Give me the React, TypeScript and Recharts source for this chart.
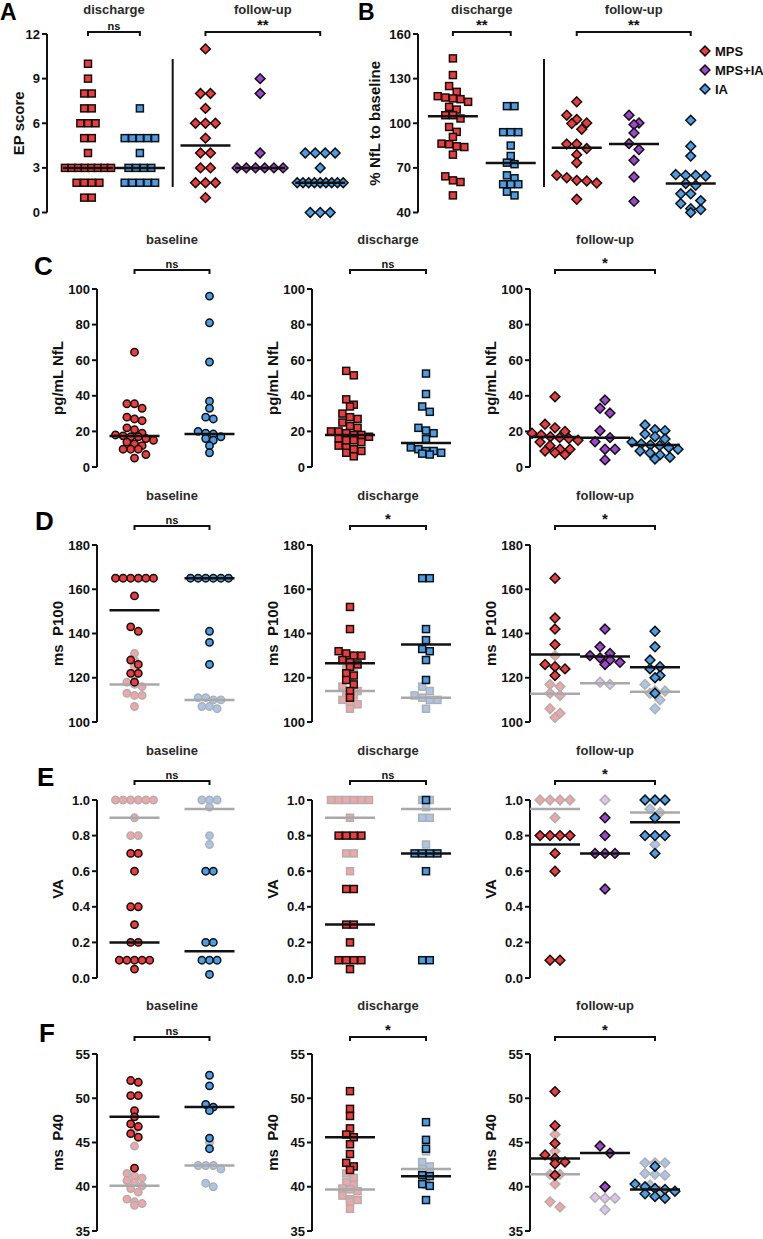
import React from 'react';
import { ScatterChart, Scatter, XAxis, YAxis } from 'recharts';

const FONT = '"Liberation Sans", Arial, Helvetica, sans-serif';

// ---- A: EP score ----
const epDisMps = [10, 9, 8, 8, 7, 7, 6, 6, 6, 5, 5, 4, 3, 3, 3, 3, 3, 3, 3, 3, 2, 2, 2, 2, 1, 1];
const epDisIa = [7, 5, 5, 5, 5, 5, 4, 3, 3, 3, 3, 2, 2, 2, 2, 2];
const epFuMps = [11, 8, 8, 7, 6, 6, 6, 5, 4, 4, 3, 3, 2, 2, 2, 1];
const epFuMpsIa = [9, 8, 4, 3, 3, 3, 3, 3, 3];
const epFuIa = [4, 4, 4, 4, 3, 2, 2, 2, 2, 2, 2, 2, 2, 2, 0, 0, 0];
const epMedians = [3, 3, 4.5, 3, 2];

// ---- B: % NfL to baseline ----
const pctDisMps = [143.6, 132.4, 125, 121.1, 118.2, 117.3, 116.7, 116.2, 114.4, 111, 109.2, 105.4, 105.4, 103.2, 97.5, 94.2, 90.8, 86.3, 85.9, 84.5, 84, 78.9, 64.3, 61.6, 60.5, 51.5];
const pctDisIa = [111.5, 111.5, 94, 94, 94, 85, 78, 73.5, 72.5, 65, 63, 59, 59, 59, 54, 51.5];
const pctFuMps = [114.4, 105.4, 102.5, 100.2, 99.8, 96, 86, 86, 83, 78.9, 73.5, 65, 63.4, 61.6, 61.2, 59.8, 48.9];
const pctFuMpsIa = [105.4, 100.2, 99.1, 93.5, 86.3, 82.3, 75.1, 63.9, 47.5];
const pctFuIa = [102, 84.6, 77.9, 65.5, 65, 65, 64.5, 59.5, 58.3, 52.6, 52.6, 48, 46, 42.6, 42, 40];
const pctMedians = [104.7, 73.3, 83.6, 86, 59.5];

// ---- C: pg/mL NfL ----
const nflBaseMps = [64.5, 35.5, 35.5, 33, 28, 27, 26, 22, 21, 19, 18, 17.5, 17, 17, 16, 15, 14, 13, 12, 10, 10, 10, 7, 5];
const nflBaseIa = [96, 81, 59, 37, 33, 28, 27, 20, 19, 18.5, 17, 16, 15, 12, 8];
const nflDisMps = [54, 51.5, 38, 35, 34, 30, 28, 27, 25, 23, 22, 20, 20, 19, 18, 18, 17, 16, 15, 15, 14, 12, 11, 10, 9, 8, 6];
const nflDisIa = [52.5, 41, 34, 31, 22, 20.5, 19, 15.7, 11, 10, 9, 9, 8, 7.5, 7];
const nflFuMps = [39.5, 24, 22, 20, 19, 18, 17, 16.5, 16, 15, 14, 12, 10, 10, 9, 8, 7];
const nflFuMpsIa = [37.6, 33, 30.3, 20.4, 16.5, 14.2, 10, 10, 4];
const nflFuIa = [23.6, 21, 20.4, 18.5, 17, 15.7, 14, 13, 12.4, 12, 11, 10, 9, 7.9, 6.8, 5.5, 4.5];
const nflMedians = [17.4, 18.5, 18, 13.5, 16.8, 16.5, 12.4];

// ---- D: ms P100 (dark = affected, light = other) ----
const p100BaseMps = [165, 165, 165, 165, 165, 165, 157, 143, 141, 128, 126, 122, 122, 118];
const p100BaseMpsLt = [131, 128, 125, 121, 118, 117, 116, 113, 112, 112, 107];
const p100BaseIa = [165, 165, 165, 165, 165, 165, 141, 136, 126];
const p100BaseIaLt = [111, 111, 110, 110, 107, 106, 107];
const p100DisMps = [152, 142, 132, 131, 130, 130, 128, 127, 126, 125, 122, 121, 119, 117, 114, 111];
const p100DisMpsLt = [130, 127, 124, 122, 119, 116, 114, 114, 113, 112, 110, 109, 108, 106];
const p100DisIa = [165, 165, 142, 137, 133, 132, 128, 119];
const p100DisIaLt = [116, 114, 112, 111, 110, 110, 106];
const p100FuMps = [165, 147, 142, 135, 126, 125, 124, 121];
const p100FuMpsLt = [130, 117, 116, 113, 112, 106, 104, 102];
const p100FuMpsIa = [142, 134, 131, 130, 129, 128, 127, 126];
const p100FuMpsIaLt = [118, 117];
const p100FuIa = [141, 134, 128, 125, 124, 121, 120, 113];
const p100FuIaLt = [117, 114, 114, 113, 110, 106];
const p100Medians = [150.5, 165, 126.5, 135, 130.5, 129.6, 124.7];
const p100LtMedians = [117, 110, 114, 111, 112.8, 117.5, 113.7];

// ---- E: VA ----
const vaBaseMps = [0.7, 0.7, 0.6, 0.4, 0.4, 0.3, 0.2, 0.2, 0.1, 0.1, 0.1, 0.1, 0.1, 0.05];
const vaBaseMpsLt = [1, 1, 1, 1, 1, 1, 0.9, 0.8, 0.8];
const vaBaseIa = [0.6, 0.6, 0.2, 0.2, 0.1, 0.1, 0.1, 0.02];
const vaBaseIaLt = [1, 1, 1, 0.96, 0.8, 0.75];
const vaDisMps = [0.8, 0.8, 0.8, 0.8, 0.5, 0.5, 0.3, 0.3, 0.2, 0.1, 0.1, 0.1, 0.1, 0.05];
const vaDisMpsLt = [1, 1, 1, 1, 1, 1, 0.9, 0.7, 0.7, 0.6];
const vaDisIa = [1, 0.7, 0.7, 0.7, 0.7, 0.6, 0.1, 0.1];
const vaDisIaLt = [1, 1, 0.96, 0.9, 0.9, 0.75];
const vaFuMps = [0.8, 0.8, 0.8, 0.8, 0.7, 0.6, 0.1, 0.1];
const vaFuMpsLt = [1, 1, 1, 1, 0.9];
const vaFuMpsIa = [0.9, 0.8, 0.7, 0.7, 0.7, 0.5];
const vaFuMpsIaLt = [1];
const vaFuIa = [1, 1, 1, 0.9, 0.8, 0.8, 0.8, 0.7];
const vaFuIaLt = [0.95, 0.93, 0.75];
const vaMedians = [0.2, 0.15, 0.3, 0.7, 0.75, 0.7, 0.875];
const vaLtMedians = [0.9, 0.95, 0.9, 0.95, 0.95, null, 0.93];

// ---- F: ms P40 ----
const p40BaseMps = [52, 51.8, 50.3, 50.3, 48.6, 47.9, 47.1, 46.8, 46, 45.6, 42.1];
const p40BaseMpsLt = [46.5, 44.6, 41.5, 41.2, 41, 40.7, 40.5, 40.1, 39.8, 39.4, 38.6, 38.3, 38.1, 37.9];
const p40BaseIa = [52.6, 51.4, 49.3, 49, 48.6, 45.5, 44.3];
const p40BaseIaLt = [45, 42.4, 42.4, 42.4, 42, 40.4, 40];
const p40DisMps = [50.8, 48.8, 48, 46.6, 45.9, 45.6, 44.8, 43.7, 42.7, 42.3, 41.9];
const p40DisMpsLt = [46.4, 41.5, 41, 40.5, 40.2, 39.8, 39.7, 39.5, 39, 38.6, 38.5, 38.3, 37.5];
const p40DisIa = [47.3, 45.3, 44.3, 41.3, 41.2, 40.3, 40.1, 38.5];
const p40DisIaLt = [44, 42.8, 42.3, 42, 41.6, 41, 40.2];
const p40FuMps = [50.75, 46.9, 44.9, 43.6, 43.2, 42.8, 42.6, 41.3];
const p40FuMpsLt = [45.9, 44, 43, 41.4, 41.4, 40.3, 38.3, 37.7];
const p40FuMpsIa = [44.6, 43.8, 40];
const p40FuMpsIaLt = [40, 38.8, 38.7, 38.7, 37.4];
const p40FuIa = [42.3, 40.3, 40, 39.8, 39.7, 39.5, 39.2, 38.9, 38.7];
const p40FuIaLt = [42.7, 42.7, 42.7, 41.5, 41.4, 41.3, 40.2, 39.5];
const p40Medians = [47.9, 49, 45.6, 41.2, 43.2, 43.8, 39.7];
const p40LtMedians = [40.1, 42.4, 39.7, 42, 41.4, null, null];

const PALETTE: Record<string, { dark: string; light: string }> = {
  red: { dark: '#ef3b3b', light: '#f4a4a4' },
  blue: { dark: '#4a9de6', light: '#a8c6ec' },
  purple: { dark: '#a045cf', light: '#dcc4ee' },
};
const LIGHT_STROKE = '#b0b0b0';
const INK = '#111';

type Kind = 'square' | 'circle' | 'diamond';
const MARK_W: Record<Kind, number> = { square: 8, circle: 8, diamond: 10.5 };

interface Group {
  slot: number;
  kind: Kind;
  color: string;
  dark: number[];
  median: number;
  light?: number[];
  lightMedian?: number | null;
}

interface Bracket {
  from: number;
  to: number;
  text: string;
  title: string;
}

interface Spec {
  axisX: number;
  top: number;
  bottom: number;
  plotW: number;
  span: number;
  domain: [number, number];
  ticks: number[];
  fmt?: (v: number) => string;
  label: string;
  labelX: number;
  groups: Group[];
  brackets: Bracket[];
  titleY: number;
  bracketY: number;
  separator?: { slot: number; y1: number; y2: number };
}

// spread tied / near values side by side like a dot plot
function spread(values: number[], slot: number, pxPerVal: number, unitPx: number, kind: Kind) {
  const w = MARK_W[kind];
  const sorted = [...values].sort((a, b) => b - a);
  const rows: number[][] = [];
  sorted.forEach((v) => {
    const row = rows[rows.length - 1];
    if (row && (row[0] - v) * pxPerVal < w * 0.75) row.push(v);
    else rows.push([v]);
  });
  const pts: { x: number; y: number }[] = [];
  rows.forEach((row) => {
    const n = row.length;
    const gap = n > 1 ? Math.min(w * 0.95, 46 / (n - 1)) : 0;
    row.forEach((v, i) => pts.push({ x: slot + ((i - (n - 1) / 2) * gap) / unitPx, y: v }));
  });
  return pts;
}

function makeShape(kind: Kind, fill: string, stroke: string) {
  // eslint-disable-next-line @typescript-eslint/no-explicit-any
  return (p: any) => {
    const { cx, cy } = p;
    if (cx == null || cy == null) return <g />;
    if (kind === 'square')
      return <rect x={cx - 3.5} y={cy - 3.5} width={7} height={7} fill={fill} stroke={stroke} strokeWidth={1.5} />;
    if (kind === 'circle') return <circle cx={cx} cy={cy} r={3.7} fill={fill} stroke={stroke} strokeWidth={1.5} />;
    const r = 4.9;
    return (
      <polygon
        points={`${cx},${cy - r} ${cx + r},${cy} ${cx},${cy + r} ${cx - r},${cy}`}
        fill={fill}
        stroke={stroke}
        strokeWidth={1.5}
      />
    );
  };
}

const noDot = () => <g />;

function medianLine(key: string, slot: number, half: number, y: number, color: string) {
  return (
    <Scatter
      key={key}
      data={[
        { x: slot - half, y },
        { x: slot + half, y },
      ]}
      line={{ stroke: color, strokeWidth: 2.5 }}
      shape={noDot}
      isAnimationActive={false}
    />
  );
}

const YW = 44;
const M = 10;

function Panel({ spec }: { spec: Spec }) {
  const plotH = spec.bottom - spec.top;
  const unitPx = spec.plotW / spec.span;
  const pxPerVal = plotH / (spec.domain[1] - spec.domain[0]);
  const half = 25 / unitPx;

  const lightPts = spec.groups.map((g, i) =>
    g.light ? (
      <Scatter
        key={`l${i}`}
        data={spread(g.light, g.slot, pxPerVal, unitPx, g.kind)}
        shape={makeShape(g.kind, PALETTE[g.color].light, LIGHT_STROKE)}
        isAnimationActive={false}
      />
    ) : null
  );
  const lightMeds = spec.groups.map((g, i) =>
    g.light && g.lightMedian != null ? medianLine(`lm${i}`, g.slot, half, g.lightMedian, '#a9a9a9') : null
  );
  const darkPts = spec.groups.map((g, i) => (
    <Scatter
      key={`d${i}`}
      data={spread(g.dark, g.slot, pxPerVal, unitPx, g.kind)}
      shape={makeShape(g.kind, PALETTE[g.color].dark, INK)}
      isAnimationActive={false}
    />
  ));
  const darkMeds = spec.groups.map((g, i) => medianLine(`dm${i}`, g.slot, half, g.median, INK));

  return (
    <div style={{ position: 'absolute', left: spec.axisX - YW, top: spec.top - M }}>
      <ScatterChart
        width={YW + spec.plotW + 6}
        height={plotH + 2 * M}
        margin={{ top: M, right: 6, bottom: M, left: 0 }}
      >
        <XAxis type="number" dataKey="x" domain={[0, spec.span]} hide />
        <YAxis
          type="number"
          dataKey="y"
          domain={spec.domain}
          ticks={spec.ticks}
          interval={0}
          width={YW}
          tickSize={5}
          tickMargin={2}
          tickFormatter={spec.fmt}
          axisLine={{ stroke: INK, strokeWidth: 2 }}
          tickLine={{ stroke: INK, strokeWidth: 2 }}
          tick={{ fontSize: 13, fontWeight: 700, fill: INK, fontFamily: FONT }}
        />
        {lightPts}
        {lightMeds}
        {darkPts}
        {darkMeds}
      </ScatterChart>
    </div>
  );
}

function Overlay({ spec }: { spec: Spec }) {
  const unitPx = spec.plotW / spec.span;
  const px = (s: number) => spec.axisX + s * unitPx;
  const cy = (spec.top + spec.bottom) / 2;
  return (
    <g>
      {spec.brackets.map((b, i) => {
        const x1 = px(spec.groups[b.from].slot);
        const x2 = px(spec.groups[b.to].slot);
        const y = spec.bracketY;
        return (
          <g key={i}>
            <path d={`M${x1},${y + 4}V${y}H${x2}V${y + 4}`} fill="none" stroke={INK} strokeWidth={2} />
            <text
              x={(x1 + x2) / 2}
              y={y - 2.5}
              textAnchor="middle"
              fontSize={b.text === 'ns' ? 11 : 15}
              fontWeight={700}
              fill={INK}
            >
              {b.text}
            </text>
            <text x={(x1 + x2) / 2} y={spec.titleY + 5} textAnchor="middle" fontSize={13} fontWeight={700} fill="#2a2a2a">
              {b.title}
            </text>
          </g>
        );
      })}
      <text
        transform={`translate(${spec.labelX},${cy}) rotate(-90)`}
        textAnchor="middle"
        dominantBaseline="central"
        fontSize={15}
        fontWeight={700}
        fill={INK}
      >
        {spec.label}
      </text>
      {spec.separator && (
        <line
          x1={px(spec.separator.slot)}
          x2={px(spec.separator.slot)}
          y1={spec.separator.y1}
          y2={spec.separator.y2}
          stroke={INK}
          strokeWidth={2}
        />
      )}
    </g>
  );
}

const COLS = [
  { axisX: 97, plotW: 150, title: 'baseline' },
  { axisX: 312, plotW: 152, title: 'discharge' },
  { axisX: 530, plotW: 150, title: 'follow-up' },
];

const ROWS = [
  { top: 289, bottom: 467, titleY: 239, bracketY: 270 },
  { top: 545, bottom: 722, titleY: 495, bracketY: 526 },
  { top: 800, bottom: 978, titleY: 750, bracketY: 781 },
  { top: 1054, bottom: 1231, titleY: 1005, bracketY: 1037 },
];

function twoGroup(kind: Kind, mps: number[], ia: number[], mMps: number, mIa: number, lMps?: number[], lIa?: number[], lmMps?: number | null, lmIa?: number | null): Group[] {
  return [
    { slot: 0.5, kind, color: 'red', dark: mps, median: mMps, light: lMps, lightMedian: lmMps },
    { slot: 1.5, kind, color: 'blue', dark: ia, median: mIa, light: lIa, lightMedian: lmIa },
  ];
}

function rowSpecs(
  r: number,
  domain: [number, number],
  ticks: number[],
  label: string,
  groups: Group[][],
  sig: string[],
  fmt?: (v: number) => string
): Spec[] {
  return COLS.map((c, i) => ({
    axisX: c.axisX,
    plotW: c.plotW,
    span: groups[i].length,
    top: ROWS[r].top,
    bottom: ROWS[r].bottom,
    titleY: ROWS[r].titleY,
    bracketY: ROWS[r].bracketY,
    domain,
    ticks,
    fmt,
    label,
    labelX: c.axisX - 40,
    groups: groups[i],
    brackets: [{ from: 0, to: groups[i].length - 1, text: sig[i], title: c.title }],
  }));
}

const specA: Spec = {
  axisX: 47,
  top: 34,
  bottom: 212.5,
  plotW: 306,
  span: 5.6,
  domain: [0, 12],
  ticks: [0, 3, 6, 9, 12],
  label: 'EP score',
  labelX: 18,
  titleY: 9,
  bracketY: 32,
  separator: { slot: 2.3, y1: 59, y2: 187 },
  groups: [
    { slot: 0.75, kind: 'square', color: 'red', dark: epDisMps, median: epMedians[0] },
    { slot: 1.7, kind: 'square', color: 'blue', dark: epDisIa, median: epMedians[1] },
    { slot: 2.9, kind: 'diamond', color: 'red', dark: epFuMps, median: epMedians[2] },
    { slot: 3.9, kind: 'diamond', color: 'purple', dark: epFuMpsIa, median: epMedians[3] },
    { slot: 5.0, kind: 'diamond', color: 'blue', dark: epFuIa, median: epMedians[4] },
  ],
  brackets: [
    { from: 0, to: 1, text: 'ns', title: 'discharge' },
    { from: 2, to: 4, text: '**', title: 'follow-up' },
  ],
};

const specB: Spec = {
  axisX: 418,
  top: 34,
  bottom: 212.5,
  plotW: 300,
  span: 5.5,
  domain: [40, 160],
  ticks: [40, 70, 100, 130, 160],
  label: '% NfL to baseline',
  labelX: 374,
  titleY: 9,
  bracketY: 32,
  separator: { slot: 2.31, y1: 59, y2: 187 },
  groups: [
    { slot: 0.64, kind: 'square', color: 'red', dark: pctDisMps, median: pctMedians[0] },
    { slot: 1.7, kind: 'square', color: 'blue', dark: pctDisIa, median: pctMedians[1] },
    { slot: 2.91, kind: 'diamond', color: 'red', dark: pctFuMps, median: pctMedians[2] },
    { slot: 3.96, kind: 'diamond', color: 'purple', dark: pctFuMpsIa, median: pctMedians[3] },
    { slot: 5.0, kind: 'diamond', color: 'blue', dark: pctFuIa, median: pctMedians[4] },
  ],
  brackets: [
    { from: 0, to: 1, text: '**', title: 'discharge' },
    { from: 2, to: 4, text: '**', title: 'follow-up' },
  ],
};

function threeGroup(mps: number[], both: number[], ia: number[], med: number[], lMps?: number[], lBoth?: number[], lIa?: number[], lmed?: (number | null)[]): Group[] {
  return [
    { slot: 0.5, kind: 'diamond', color: 'red', dark: mps, median: med[0], light: lMps, lightMedian: lmed ? lmed[0] : null },
    { slot: 1.5, kind: 'diamond', color: 'purple', dark: both, median: med[1], light: lBoth, lightMedian: lmed ? lmed[1] : null },
    { slot: 2.5, kind: 'diamond', color: 'blue', dark: ia, median: med[2], light: lIa, lightMedian: lmed ? lmed[2] : null },
  ];
}

const specsC = rowSpecs(
  0,
  [0, 100],
  [0, 20, 40, 60, 80, 100],
  'pg/mL NfL',
  [
    twoGroup('circle', nflBaseMps, nflBaseIa, nflMedians[0], nflMedians[1]),
    twoGroup('square', nflDisMps, nflDisIa, nflMedians[2], nflMedians[3]),
    threeGroup(nflFuMps, nflFuMpsIa, nflFuIa, nflMedians.slice(4)),
  ],
  ['ns', 'ns', '*']
);

const specsD = rowSpecs(
  1,
  [100, 180],
  [100, 120, 140, 160, 180],
  'ms\u00a0\u00a0P100',
  [
    twoGroup('circle', p100BaseMps, p100BaseIa, p100Medians[0], p100Medians[1], p100BaseMpsLt, p100BaseIaLt, p100LtMedians[0], p100LtMedians[1]),
    twoGroup('square', p100DisMps, p100DisIa, p100Medians[2], p100Medians[3], p100DisMpsLt, p100DisIaLt, p100LtMedians[2], p100LtMedians[3]),
    threeGroup(p100FuMps, p100FuMpsIa, p100FuIa, p100Medians.slice(4), p100FuMpsLt, p100FuMpsIaLt, p100FuIaLt, p100LtMedians.slice(4)),
  ],
  ['ns', '*', '*']
);

const specsE = rowSpecs(
  2,
  [0, 1],
  [0, 0.2, 0.4, 0.6, 0.8, 1],
  'VA',
  [
    twoGroup('circle', vaBaseMps, vaBaseIa, vaMedians[0], vaMedians[1], vaBaseMpsLt, vaBaseIaLt, vaLtMedians[0], vaLtMedians[1]),
    twoGroup('square', vaDisMps, vaDisIa, vaMedians[2], vaMedians[3], vaDisMpsLt, vaDisIaLt, vaLtMedians[2], vaLtMedians[3]),
    threeGroup(vaFuMps, vaFuMpsIa, vaFuIa, vaMedians.slice(4), vaFuMpsLt, vaFuMpsIaLt, vaFuIaLt, vaLtMedians.slice(4)),
  ],
  ['ns', 'ns', '*'],
  (v) => v.toFixed(1)
);

const specsF = rowSpecs(
  3,
  [35, 55],
  [35, 40, 45, 50, 55],
  'ms\u00a0\u00a0P40',
  [
    twoGroup('circle', p40BaseMps, p40BaseIa, p40Medians[0], p40Medians[1], p40BaseMpsLt, p40BaseIaLt, p40LtMedians[0], p40LtMedians[1]),
    twoGroup('square', p40DisMps, p40DisIa, p40Medians[2], p40Medians[3], p40DisMpsLt, p40DisIaLt, p40LtMedians[2], p40LtMedians[3]),
    threeGroup(p40FuMps, p40FuMpsIa, p40FuIa, p40Medians.slice(4), p40FuMpsLt, p40FuMpsIaLt, p40FuIaLt, p40LtMedians.slice(4)),
  ],
  ['ns', '*', '*']
);

const ALL_SPECS = [specA, specB, ...specsC, ...specsD, ...specsE, ...specsF];

const LETTERS = [
  { t: 'A', x: 0, y: 20, s: 23 },
  { t: 'B', x: 358, y: 20, s: 23 },
  { t: 'C', x: 34, y: 275, s: 26 },
  { t: 'D', x: 35, y: 530, s: 26 },
  { t: 'E', x: 37, y: 786, s: 26 },
  { t: 'F', x: 39, y: 1042, s: 26 },
];

const LEGEND = [
  { name: 'MPS', color: 'red' },
  { name: 'MPS+IA', color: 'purple' },
  { name: 'IA', color: 'blue' },
];

export default function App() {
  return (
    <div style={{ position: 'relative', width: 763, height: 1239, background: '#fff', fontFamily: FONT, overflow: 'hidden' }}>
      <style>{'body{margin:0;}'}</style>
      {ALL_SPECS.map((s, i) => (
        <Panel key={i} spec={s} />
      ))}
      <svg
        width={763}
        height={1239}
        style={{ position: 'absolute', left: 0, top: 0, pointerEvents: 'none' }}
        fontFamily={FONT}
      >
        {ALL_SPECS.map((s, i) => (
          <Overlay key={i} spec={s} />
        ))}
        {LETTERS.map((l) => (
          <text key={l.t} x={l.x} y={l.y} fontSize={l.s} fontWeight={700} fill="#000">
            {l.t}
          </text>
        ))}
        {LEGEND.map((l, i) => {
          const y = 51 + i * 19;
          const r = 4.9;
          return (
            <g key={l.name}>
              <polygon
                points={`705,${y - r} ${705 + r},${y} 705,${y + r} ${705 - r},${y}`}
                fill={PALETTE[l.color].dark}
                stroke={INK}
                strokeWidth={1.5}
              />
              <text x={715} y={y + 5} fontSize={13} fontWeight={700} fill={INK}>
                {l.name}
              </text>
            </g>
          );
        })}
      </svg>
    </div>
  );
}
